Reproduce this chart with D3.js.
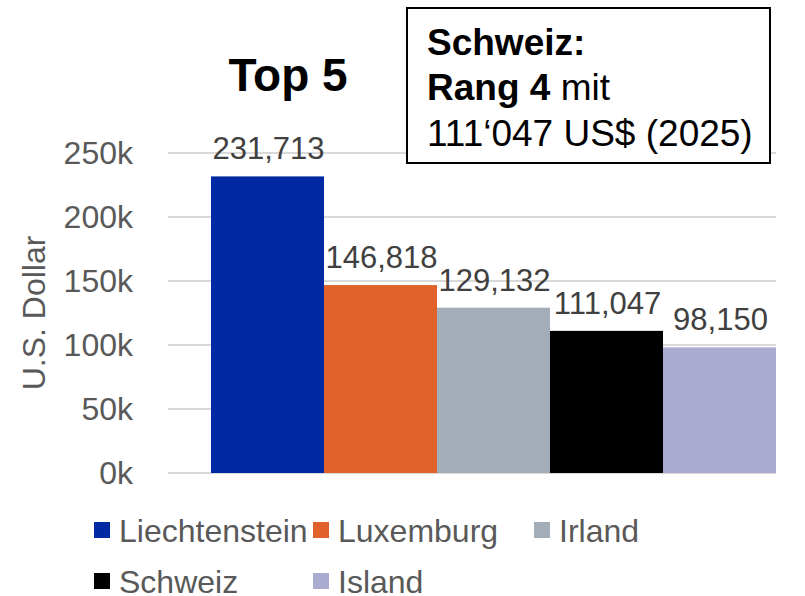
<!doctype html>
<html>
<head>
<meta charset="utf-8">
<title>Top 5</title>
<style>
  body { margin: 0; background: #fff; }
  text { font-family: "Liberation Sans", Arial, sans-serif; }
</style>
</head>
<body>
<div id="chart"></div>
<script src="https://d3js.org/d3.v7.min.js"></script>
<script>
var countries = ["Liechtenstein", "Luxemburg", "Irland", "Schweiz", "Island"];
var values = [231713, 146818, 129132, 111047, 98150];
var colors = ["#0029a3", "#e0612a", "#a3adb8", "#000000", "#a9acce"];
var yTicks = [0, 50000, 100000, 150000, 200000, 250000];

var w = 805, h = 596;
var svg = d3.select("#chart").append("svg").attr("width", w).attr("height", h);

var x = d3.scaleBand().domain(countries).range([211, 776]).padding(0);
var y = d3.scaleLinear().domain([0, 250000]).range([473, 153]);

// gridlines
svg.append("g").selectAll("line").data(yTicks).enter().append("line")
  .attr("x1", 168).attr("x2", 776)
  .attr("y1", function(d){ return y(d); }).attr("y2", function(d){ return y(d); })
  .attr("stroke", "#d9d9d9").attr("stroke-width", 2);

// y axis labels
var yAxis = d3.axisLeft(y).tickValues(yTicks).tickSize(0).tickPadding(0)
  .tickFormat(function(d){ return (d / 1000) + "k"; });
var ga = svg.append("g").attr("transform", "translate(133,0)").call(yAxis);
ga.select(".domain").remove();
ga.selectAll("text").attr("font-size", 32).attr("fill", "#595959")
  .attr("font-family", "Liberation Sans, Arial, sans-serif").attr("dy", "0.32em");

svg.append("text").attr("transform", "translate(45,313) rotate(-90)")
  .attr("text-anchor", "middle").attr("font-size", 32).attr("fill", "#595959")
  .text("U.S. Dollar");

// bars
svg.append("g").selectAll("rect").data(values).enter().append("rect")
  .attr("x", function(d, i){ return x(countries[i]); })
  .attr("width", x.bandwidth())
  .attr("y", function(d){ return y(d); })
  .attr("height", function(d){ return y(0) - y(d); })
  .attr("fill", function(d, i){ return colors[i]; });

// value labels
svg.append("g").selectAll("text").data(values).enter().append("text")
  .attr("x", function(d, i){ return x(countries[i]) + x.bandwidth() / 2 + 1; })
  .attr("y", function(d){ return y(d) - 17; })
  .attr("text-anchor", "middle").attr("font-size", 31).attr("fill", "#404040")
  .text(function(d){ return d3.format(",")(d); });

// title
svg.append("text").attr("x", 288).attr("y", 91).attr("text-anchor", "middle")
  .attr("font-size", 46).attr("font-weight", "bold").attr("fill", "#000")
  .text("Top 5");

// annotation box
svg.append("rect").attr("x", 407).attr("y", 8).attr("width", 363).attr("height", 155)
  .attr("fill", "#fff").attr("stroke", "#000").attr("stroke-width", 2);
var note = svg.append("text").attr("font-size", 37).attr("fill", "#000");
note.append("tspan").attr("x", 427).attr("y", 55).attr("font-weight", "bold").text("Schweiz:");
var l2 = note.append("tspan").attr("x", 427).attr("y", 100);
l2.append("tspan").attr("font-weight", "bold").text("Rang 4");
l2.append("tspan").text(" mit");
note.append("tspan").attr("x", 427).attr("y", 146).text("111\u2018047 US$ (2025)");

// legend
var legPos = [[94, 530], [313, 530], [534, 530], [94, 581], [313, 581]];
var leg = svg.append("g").selectAll("g").data(countries).enter().append("g")
  .attr("transform", function(d, i){ return "translate(" + legPos[i][0] + "," + legPos[i][1] + ")"; });
leg.append("rect").attr("x", 0).attr("y", -8).attr("width", 16).attr("height", 16)
  .attr("fill", function(d, i){ return colors[i]; });
leg.append("text").attr("x", 25).attr("y", 12)
  .attr("font-size", 32).attr("fill", "#595959").text(function(d){ return d; });
</script>
</body>
</html>
